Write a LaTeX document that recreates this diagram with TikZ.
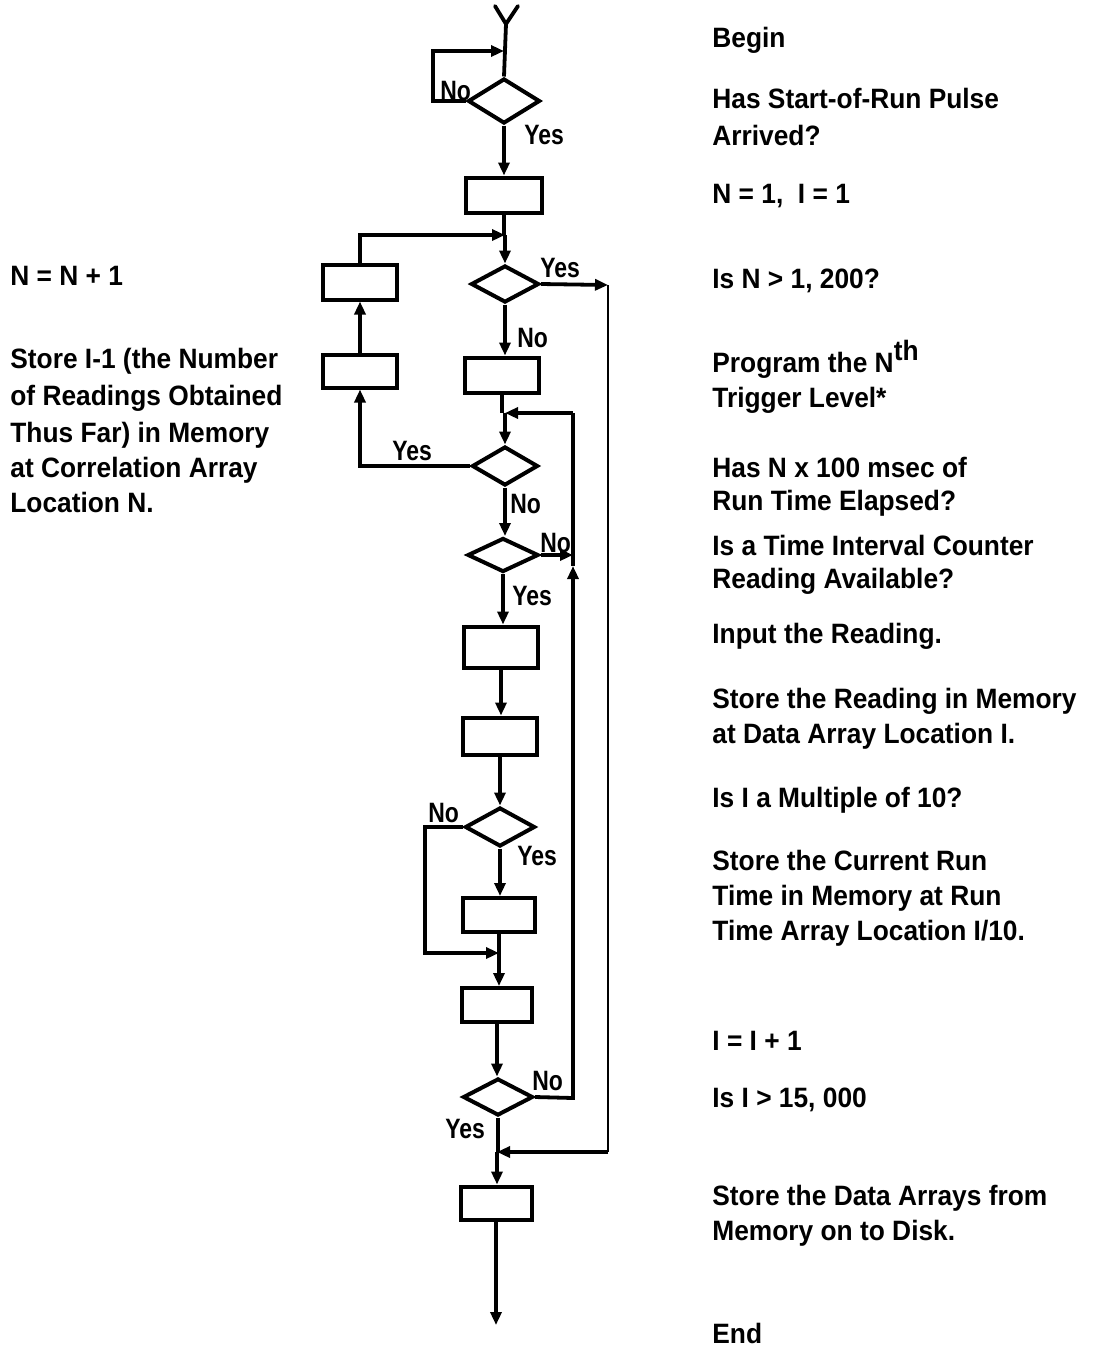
\documentclass[tikz,border=0pt]{standalone}
\usepackage{fontspec}
\setmainfont[FakeStretch=0.94]{Liberation Sans}
\newfontfamily\labfont[FakeStretch=0.82]{Liberation Sans}
\usetikzlibrary{shapes.geometric,arrows.meta}
\begin{document}
\begin{tikzpicture}[x=0.5pt,y=-0.5pt,
  flow/.style={line width=1.9pt},
  thin flow/.style={line width=1.3pt},
  arr/.style={flow,-{Triangle[length=6.5pt,width=5.5pt]}},
  box/.style={draw,rectangle,line width=2pt,inner sep=0pt,minimum width=37pt,minimum height=17.5pt},
  dia/.style={draw,diamond,line width=2pt,inner sep=0pt,minimum width=35pt,minimum height=20pt},
  txt/.style={anchor=base west,inner sep=0pt,font=\fontsize{14}{18}\selectfont\bfseries},
  lab/.style={anchor=base west,inner sep=0pt,font=\labfont\fontsize{14}{14}\selectfont\bfseries}]
\useasboundingbox (0,0) rectangle (1095,1351);

% ---- nodes ----
\node[dia,minimum width=36pt,minimum height=22.5pt] (d1) at (504,101) {};
\node[box,minimum width=38pt] (b1) at (504,195) {};
\node[dia,minimum height=18.5pt,minimum width=34pt] (d2) at (505,284) {};
\node[box] (b3) at (502,375) {};
\node[box] (L1) at (360,282) {};
\node[box,minimum height=16.5pt] (L2) at (360,371) {};
\node[dia,minimum width=33pt,minimum height=19.5pt] (d3) at (505,466) {};
\node[dia,minimum width=35.5pt,minimum height=17pt] (d4) at (503,555) {};
\node[box,minimum height=20.5pt] (b4) at (501,647) {};
\node[box,minimum height=18.5pt] (b5) at (500,736) {};
\node[dia,minimum height=19.5pt] (d5) at (500,827) {};
\node[box,minimum width=36pt,minimum height=17pt] (b6) at (499,915) {};
\node[box,minimum width=35pt,minimum height=17pt] (b7) at (497,1005) {};
\node[dia,minimum height=18.5pt] (d6) at (498,1097) {};
\node[box,minimum width=35.5pt,minimum height=16.5pt] (b8) at (496,1203) {};

\coordinate (top) at (506,24);
\coordinate (ya) at (495,6);
\coordinate (yb) at (518,6);
\coordinate (j0) at (504,51);
\coordinate (j1) at (505,235);
\coordinate (j2) at (505,413);
\coordinate (j4) at (499,953);
\coordinate (j5) at (497,1152);
\coordinate (r1) at (608,285);
\coordinate (r2) at (608,1152);
\coordinate (q1) at (573,1098);
\coordinate (q2) at (573,582);
\coordinate (q3) at (573,566);
\coordinate (q4) at (573,413);
\coordinate (endpt) at (496,1325);

% ---- connectors ----
\draw[flow,line cap=round] (ya) -- (top) -- (yb);
\draw[flow] (top) -- (d1.north);
\draw[arr] (d1.west) -| (433,51) -- (j0);
\draw[arr] (d1.south) -- (d1.south |- b1.north);
\draw[flow] (b1.south) -- (b1.south |- j1);
\draw[arr] (j1) -- (d2.north);
\draw[arr] (d2.east) -- (r1);
\draw[thin flow] (r1) -- (r2);
\draw[arr] (r2) -- (j5);
\draw[arr] (d2.south) -- (d2.south |- b3.north);
\draw[flow] (b3.south) -- (b3.south |- j2);
\draw[arr] (j2) -- (d3.north);
\draw[arr] (d3.west) -| (L2.south);
\draw[arr] (L2.north) -- (L1.south);
\draw[arr] (L1.north) |- (j1);
\draw[arr] (d3.south) -- (d3.south |- d4.north);
\draw[arr] (d4.east) -- (d4.east -| q4);
\draw[flow] (d6.east) -- (q1) -- (q2);
\draw[arr] (q2) -- (q3);
\draw[flow] (q3) -- (q4);
\draw[arr] (q4) -- (j2);
\draw[arr] (d4.south) -- (d4.south |- b4.north);
\draw[arr] (b4.south) -- (b4.south |- b5.north);
\draw[arr] (b5.south) -- (b5.south |- d5.north);
\draw[arr] (d5.south) -- (d5.south |- b6.north);
\draw[arr] (d5.west) -| (425,953) -- (j4);
\draw[flow] (b6.south) -- (b6.south |- j4);
\draw[arr] (j4) -- (j4 |- b7.north);
\draw[arr] (b7.south) -- (b7.south |- d6.north);
\draw[flow] (d6.south) -- (d6.south |- j5);
\draw[arr] (j5) -- (j5 |- b8.north);
\draw[arr] (b8.south) -- (b8.south |- endpt);

% ---- flow labels ----
\node[lab] (l1) at (440,100) {No};
\node[lab] (l2) at (524,144) {Yes};
\node[lab] (l3) at (540,277) {Yes};
\node[lab] (l4) at (517,347) {No};
\node[lab] (l5) at (392,460) {Yes};
\node[lab] (l6) at (510,513) {No};
\node[lab] (l7) at (540,552) {No};
\node[lab] (l8) at (512,605) {Yes};
\node[lab] (l9) at (428,822) {No};
\node[lab] (l10) at (517,865) {Yes};
\node[lab] (l11) at (532,1090) {No};
\node[lab] (l12) at (445,1138) {Yes};

% ---- left texts ----
\node[txt] (n1) at (10,285) {N = N + 1};
\node[txt] (s1) at (10,368) {Store I-1 (the Number};
\node[txt] (s2) at (10,405) {of Readings Obtained};
\node[txt] (s3) at (10,442) {Thus Far) in Memory};
\node[txt] (s4) at (10,477) {at Correlation Array};
\node[txt] (s5) at (10,512) {Location N.};

% ---- right texts ----
\node[txt] (r01) at (712,47) {Begin};
\node[txt] (r02) at (712,108) {Has Start-of-Run Pulse};
\node[txt] (r03) at (712,145) {Arrived?};
\node[txt] (r04) at (712,203) {N = 1,\ \ I = 1};
\node[txt] (r05) at (712,288) {Is N > 1, 200?};
\node[txt] (r06) at (712,372) {Program the N\raisebox{6pt}{th}};
\node[txt] (r07) at (712,407) {Trigger Level*};
\node[txt] (r08) at (712,477) {Has N x 100 msec of};
\node[txt] (r09) at (712,510) {Run Time Elapsed?};
\node[txt] (r10) at (712,555) {Is a Time Interval Counter};
\node[txt] (r11) at (712,588) {Reading Available?};
\node[txt] (r12) at (712,643) {Input the Reading.};
\node[txt] (r13) at (712,708) {Store the Reading in Memory};
\node[txt] (r14) at (712,743) {at Data Array Location I.};
\node[txt] (r15) at (712,807) {Is I a Multiple of 10?};
\node[txt] (r16) at (712,870) {Store the Current Run};
\node[txt] (r17) at (712,905) {Time in Memory at Run};
\node[txt] (r18) at (712,940) {Time Array Location I/10.};
\node[txt] (r19) at (712,1050) {I = I + 1};
\node[txt] (r20) at (712,1107) {Is I > 15, 000};
\node[txt] (r21) at (712,1205) {Store the Data Arrays from};
\node[txt] (r22) at (712,1240) {Memory on to Disk.};
\node[txt] (r23) at (712,1343) {End};
\end{tikzpicture}
\end{document}
